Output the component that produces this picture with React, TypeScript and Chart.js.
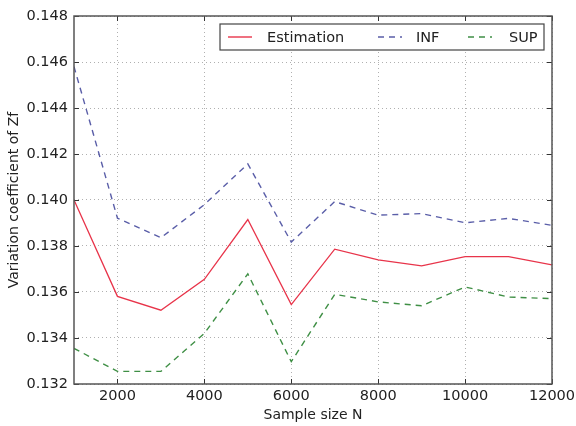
import React, { useEffect, useRef } from "react";
import { Chart, registerables } from "chart.js";

Chart.register(...registerables);

const sampleSizes = [1000, 2000, 3000, 4000, 5000, 6000, 7000, 8000, 9000, 10000, 11000, 12000];
const estimation = [0.1400, 0.13581, 0.13521, 0.13655, 0.13915, 0.13545, 0.13786, 0.1374, 0.13714, 0.13754, 0.13754, 0.13718];
const infValues = [0.1458, 0.13921, 0.13836, 0.1398, 0.14157, 0.13817, 0.13993, 0.13934, 0.13941, 0.13901, 0.1392, 0.1389];
const supValues = [0.13355, 0.13255, 0.13255, 0.1342, 0.13679, 0.13297, 0.1359, 0.13557, 0.1354, 0.13622, 0.13578, 0.13571];
const xTicks = [2000, 4000, 6000, 8000, 10000, 12000];
const yTicks = [0.132, 0.134, 0.136, 0.138, 0.14, 0.142, 0.144, 0.146, 0.148];

const seriesLabels = ["Estimation", "INF", "SUP"];
const seriesColors = ["#e8344a", "#5a5ea8", "#3f8f45"];
const FONT = "'DejaVu Sans', sans-serif";

const frameLegendPlugin = {
  id: "frameLegend",
  afterDraw(chart: any) {
    const { ctx, chartArea: a, scales } = chart;
    ctx.save();
    ctx.strokeStyle = "#333";
    ctx.lineWidth = 1;
    ctx.setLineDash([]);
    const tl = 5;
    xTicks.forEach((v) => {
      const x = Math.round(scales.x.getPixelForValue(v)) + 0.5;
      ctx.beginPath();
      ctx.moveTo(x, a.bottom); ctx.lineTo(x, a.bottom - tl);
      ctx.moveTo(x, a.top); ctx.lineTo(x, a.top + tl);
      ctx.stroke();
    });
    yTicks.forEach((v) => {
      const y = Math.round(scales.y.getPixelForValue(v)) + 0.5;
      ctx.beginPath();
      ctx.moveTo(a.left, y); ctx.lineTo(a.left + tl, y);
      ctx.moveTo(a.right, y); ctx.lineTo(a.right - tl, y);
      ctx.stroke();
    });
    ctx.strokeStyle = "#555";
    ctx.lineWidth = 1.5;
    ctx.strokeRect(a.left, a.top, a.right - a.left, a.bottom - a.top);

    const bx = a.left + 146, by = a.top + 8, bw = a.right - 8 - bx, bh = 26;
    ctx.fillStyle = "#fff";
    ctx.fillRect(bx, by, bw, bh);
    ctx.strokeStyle = "#444";
    ctx.lineWidth = 1.2;
    ctx.strokeRect(bx, by, bw, bh);
    const cy = by + bh / 2;
    const items = [
      { x0: bx + 8, tx: bx + 47, dash: [] as number[] },
      { x0: bx + 158, tx: bx + 196, dash: [6, 5] },
      { x0: bx + 248, tx: bx + 289, dash: [6, 5] },
    ];
    ctx.font = `14.5px ${FONT}`;
    ctx.textBaseline = "middle";
    items.forEach((it, i) => {
      ctx.strokeStyle = seriesColors[i];
      ctx.lineWidth = 1.4;
      ctx.setLineDash(it.dash);
      ctx.beginPath();
      ctx.moveTo(it.x0, cy);
      ctx.lineTo(it.x0 + 24, cy);
      ctx.stroke();
      ctx.setLineDash([]);
      ctx.fillStyle = "#222";
      ctx.fillText(seriesLabels[i], it.tx, cy + 1);
    });
    ctx.restore();
  },
};

export default function App() {
  const ref = useRef<HTMLCanvasElement>(null);
  useEffect(() => {
    if (!ref.current) return;
    const mk = (vals: number[]) => sampleSizes.map((x, i) => ({ x, y: vals[i] }));
    const chart = new Chart(ref.current, {
      type: "line",
      data: {
        datasets: [
          { label: seriesLabels[0], data: mk(estimation), borderColor: seriesColors[0], borderWidth: 1.3, pointRadius: 0, fill: false, tension: 0 },
          { label: seriesLabels[1], data: mk(infValues), borderColor: seriesColors[1], borderWidth: 1.4, borderDash: [6, 5], pointRadius: 0, fill: false, tension: 0 },
          { label: seriesLabels[2], data: mk(supValues), borderColor: seriesColors[2], borderWidth: 1.4, borderDash: [6, 5], pointRadius: 0, fill: false, tension: 0 },
        ],
      },
      options: {
        responsive: false,
        animation: false,
        layout: { padding: { left: 0, right: 24, top: 16, bottom: 0 } },
        plugins: { legend: { display: false }, tooltip: { enabled: false } },
        scales: {
          x: {
            type: "linear",
            min: 1000,
            max: 12000,
            afterBuildTicks: (s: any) => { s.ticks = xTicks.map((v) => ({ value: v })); },
            afterFit: (s: any) => { s.height = 42; s.paddingRight = 0; s.paddingLeft = 0; },
            ticks: { font: { family: FONT, size: 14.5 }, color: "#222", padding: 4, maxRotation: 0, autoSkip: false, callback: (v: any) => String(v) },
            grid: { color: "#b0b0b0", lineWidth: 1, drawTicks: false },
            border: { display: false, dash: [1, 3] },
            title: { display: true, text: "Sample size N", font: { family: FONT, size: 14 }, color: "#222", padding: { top: 0, bottom: 2 } },
          },
          y: {
            type: "linear",
            min: 0.132,
            max: 0.148,
            afterBuildTicks: (s: any) => { s.ticks = yTicks.map((v) => ({ value: v })); },
            afterFit: (s: any) => { s.width = 74; s.paddingTop = 0; s.paddingBottom = 0; },
            ticks: { font: { family: FONT, size: 14.5 }, color: "#222", padding: 6, callback: (v: any) => Number(v).toFixed(3) },
            grid: { color: "#b0b0b0", lineWidth: 1, drawTicks: false },
            border: { display: false, dash: [1, 3] },
            title: { display: true, text: "Variation coefficient of Zf", font: { family: FONT, size: 14 }, color: "#222", padding: { top: 6, bottom: 0 } },
          },
        },
      },
      plugins: [frameLegendPlugin],
    } as any);
    return () => chart.destroy();
  }, []);
  return (
    <div style={{ position: "fixed", left: 0, top: 0, width: 576, height: 426, background: "#fff" }}>
      <canvas ref={ref} width={576} height={426} />
    </div>
  );
}
